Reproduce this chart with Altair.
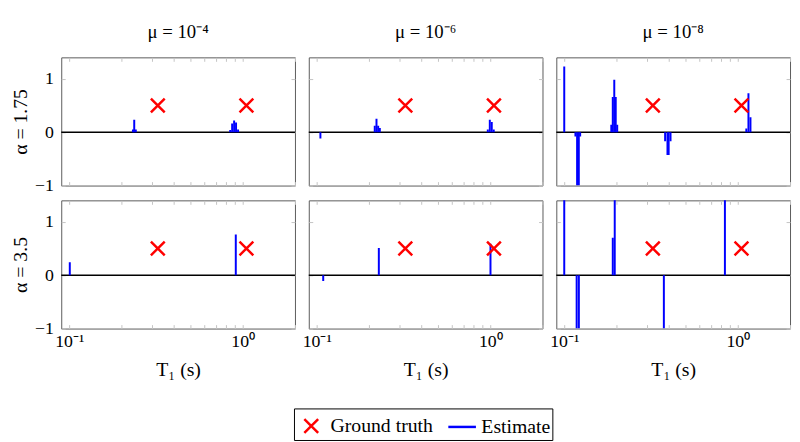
import altair as alt
import pandas as pd

FONT = "Liberation Serif"

# ---------------- data ----------------
mu_labels = ["μ = 10⁻⁴", "μ = 10⁻⁶", "μ = 10⁻⁸"]
alpha_labels = ["α = 1.75", "α = 3.5"]
series_names = ["Ground truth", "Estimate"]

truth_t1 = [0.324, 1.05]
truth_amp = [0.5, 0.5]

# estimate stems: T1 (s) and amplitude, one pair of lists per panel
est_t1_a175_mu4 = [0.233, 0.237, 0.242, 0.847, 0.869, 0.892, 0.915, 0.94]
est_amp_a175_mu4 = [0.05, 0.23, 0.05, 0.04, 0.16, 0.22, 0.18, 0.05]

est_t1_a175_mu6 = [0.105, 0.216, 0.221, 0.226, 0.231, 0.968, 0.994, 1.02, 1.047]
est_amp_a175_mu6 = [-0.12, 0.12, 0.25, 0.12, 0.08, 0.05, 0.23, 0.19, 0.05]

est_t1_a175_mu8 = [0.1, 0.116, 0.1186, 0.1213, 0.1235, 0.1867, 0.1904, 0.1942,
                   0.198, 0.2019, 0.3813, 0.3934, 0.3996, 0.4096, 1.12, 1.152, 1.183]
est_amp_a175_mu8 = [1.23, -0.08, -1.0, -1.0, -0.08, 0.14, 0.66, 0.98,
                    0.66, 0.14, -0.17, -0.43, -0.43, -0.17, 0.07, 0.73, 0.28]

est_t1_a35_mu4 = [0.1008, 0.912]
est_amp_a35_mu4 = [0.24, 0.76]

est_t1_a35_mu6 = [0.109, 0.228, 1.003]
est_amp_a35_mu6 = [-0.11, 0.51, 0.59]

est_t1_a35_mu8 = [0.1, 0.1179, 0.1214, 0.1904, 0.1954, 0.375, 0.843]
est_amp_a35_mu8 = [1.5, -1.0, -1.0, 0.7, 1.5, -1.0, 1.5]

x_tick_values = [0.1, 0.2, 0.3, 0.4, 0.5, 0.6, 0.7, 0.8, 0.9, 1.0, 2.0]
y_tick_values = [-1, 0, 1]
x_domain = [0.09, 2.0]
y_domain = [-1.0, 1.4]
zero_level = [0]

panels_t1 = [[est_t1_a175_mu4, est_t1_a175_mu6, est_t1_a175_mu8],
             [est_t1_a35_mu4, est_t1_a35_mu6, est_t1_a35_mu8]]
panels_amp = [[est_amp_a175_mu4, est_amp_a175_mu6, est_amp_a175_mu8],
              [est_amp_a35_mu4, est_amp_a35_mu6, est_amp_a35_mu8]]

# ---------------- styling ----------------
W, H = 237, 130
X_PATH = "M-0.5,-0.5L0.5,0.5M-0.5,0.5L0.5,-0.5"
LINE_PATH = "M-1,0L1,0"
SYMBOL_SIZE = 784
TICK_COLOR = "#c4c4c4"

legend = alt.Legend(
    title=None, orient="none", legendX=236, legendY=356, direction="horizontal",
    strokeColor="black", padding=2, labelFont=FONT, labelFontSize=20,
    labelColor="black", symbolStrokeWidth=2.5, symbolSize=SYMBOL_SIZE,
    labelOffset=4, columnPadding=10, cornerRadius=0,
)

x_label_expr = ("abs(datum.value - 0.1) < 1e-9 ? '10⁻¹' : "
                "(abs(datum.value - 1) < 1e-9 ? '10⁰' : '')")
y_label_expr = "datum.value < 0 ? '−1' : datum.label"


def panel(r, c):
    est = pd.DataFrame({"T1": panels_t1[r][c], "amp": panels_amp[r][c]})
    gt = pd.DataFrame({"T1": truth_t1, "amp": truth_amp,
                       "series": [series_names[0]] * len(truth_t1)})
    zero = pd.DataFrame({"z": zero_level})

    xs = alt.Scale(type="log", domain=x_domain, nice=False)
    ys = alt.Scale(domain=y_domain, nice=False, zero=False)

    bottom = r == 1
    left = c == 0

    ax_b = alt.Axis(orient="bottom", values=x_tick_values, offset=-4, tickSize=4,
                    domain=False, grid=False, labels=bottom, labelExpr=x_label_expr,
                    labelFlush=False, labelPadding=4, labelOverlap=False,
                    titlePadding=10, tickColor=TICK_COLOR)
    ax_t = alt.Axis(orient="top", values=x_tick_values, offset=-4, tickSize=4,
                    domain=False, grid=False, labels=False, tickColor=TICK_COLOR)
    ax_l = alt.Axis(orient="left", values=y_tick_values, offset=-4, tickSize=4,
                    domain=False, grid=False, labels=left, labelExpr=y_label_expr,
                    labelPadding=8, titlePadding=4, labelFlush=False,
                    tickColor=TICK_COLOR)
    ax_r = alt.Axis(orient="right", values=y_tick_values, offset=-4, tickSize=4,
                    domain=False, grid=False, labels=False, tickColor=TICK_COLOR)

    if bottom:
        x_main = alt.X("T1:Q", scale=xs, axis=ax_b, title="T₁ (s)")
    else:
        x_main = alt.X("T1:Q", scale=xs, axis=ax_b, title=None)
    if left:
        y_main = alt.Y("amp:Q", scale=ys, axis=ax_l, title=alpha_labels[r])
    else:
        y_main = alt.Y("amp:Q", scale=ys, axis=ax_l, title=None)

    zero_line = alt.Chart(zero).mark_rule(color="black", strokeWidth=1.5).encode(
        y=alt.Y("z:Q", scale=ys, axis=None)
    )
    stems = alt.Chart(est).mark_rule(color="#0000ff", strokeWidth=2, clip=True).encode(
        x=x_main, y=y_main, y2=alt.datum(0)
    )
    truth = alt.Chart(gt).mark_point(filled=False, strokeWidth=2.5, opacity=1,
                                     size=SYMBOL_SIZE).encode(
        x=alt.X("T1:Q", scale=xs, axis=ax_t, title=None),
        y=alt.Y("amp:Q", scale=ys, axis=ax_r, title=None),
        color=alt.Color("series:N", scale=alt.Scale(domain=series_names,
                        range=["#ff0000", "#0000ff"]), legend=legend),
        shape=alt.Shape("series:N", scale=alt.Scale(domain=series_names,
                        range=[X_PATH, LINE_PATH]), legend=legend),
    )
    layered = alt.layer(zero_line, stems, truth).resolve_axis(x="independent", y="independent")
    props = dict(width=W, height=H)
    if r == 0:
        props["title"] = alt.Title(mu_labels[c], offset=15)
    return layered.properties(**props)


panels = [panel(r, c) for r in range(2) for c in range(3)]
chart = alt.concat(*panels, columns=3, spacing={"row": 15, "column": 14},
                   bounds="flush").properties(
    padding={"left": 2, "top": 12, "right": 0, "bottom": 0}
).configure_view(
    stroke="#5a5a5a", strokeWidth=1
).configure_axis(
    labelFont=FONT, titleFont=FONT, labelFontSize=18, titleFontSize=20,
    titleFontWeight="normal", labelColor="black", titleColor="black",
).configure_title(
    font=FONT, fontSize=19, fontWeight="normal", color="black"
)

chart.save("out.html", embed_options={"renderer": "svg", "actions": False})
